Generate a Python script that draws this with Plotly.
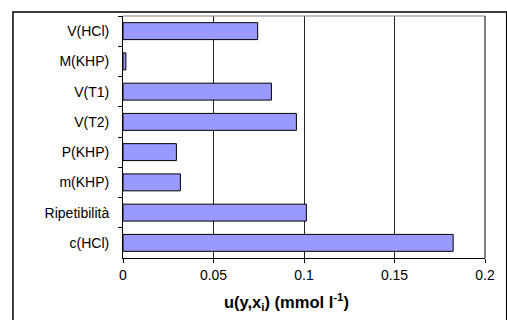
import plotly.graph_objects as go

categories = ["V(HCl)", "M(KHP)", "V(T1)", "V(T2)", "P(KHP)", "m(KHP)", "Ripetibilità", "c(HCl)"]
values = [0.0744, 0.0016, 0.082, 0.0958, 0.0295, 0.0317, 0.1013, 0.1824]
x_ticks = [0, 0.05, 0.1, 0.15, 0.2]
x_tick_labels = ["0", "0.05", "0.1", "0.15", "0.2"]

fig = go.Figure(go.Bar(
    x=values, y=categories, orientation="h",
    marker=dict(color="#9999FF", line=dict(color="#000000", width=1)),
))

font = "Liberation Sans, Arial, sans-serif"
fig.update_layout(
    width=507, height=320,
    margin=dict(l=123, r=15, t=16, b=62),
    paper_bgcolor="white", plot_bgcolor="white",
    bargap=0.44,
    showlegend=False,
    font=dict(family=font, size=14, color="#000000"),
    xaxis=dict(
        range=[0, 0.2], tickvals=x_ticks, ticktext=x_tick_labels,
        showgrid=True, gridcolor="#222222", gridwidth=1,
        showline=True, linecolor="#000000", linewidth=1,
        ticks="outside", ticklen=4, tickcolor="#000000",
        zeroline=False, tickfont=dict(size=14),
    ),
    yaxis=dict(
        autorange="reversed", type="category",
        showline=True, linecolor="#000000", linewidth=1,
        ticks="outside", ticklen=4, tickcolor="#000000", tickson="boundaries",
        showgrid=False, tickfont=dict(size=14), ticklabelstandoff=10,
    ),
    annotations=[dict(
        text="<b>u(y,x<sub>i</sub>) (mmol l<sup>-1</sup>)</b>",
        xref="paper", yref="paper", x=0.4526, y=-0.182,
        xanchor="center", yanchor="middle", showarrow=False,
        font=dict(size=16.5, family=font),
    )],
    shapes=[
        dict(type="line", xref="paper", yref="paper", x0=0, x1=1, y0=1, y1=1,
             line=dict(color="#808080", width=1)),
        dict(type="line", xref="paper", yref="paper", x0=1, x1=1, y0=0, y1=1,
             line=dict(color="#000000", width=1)),
        dict(type="rect", xref="paper", yref="paper",
             x0=-0.304, x1=1.06, y0=1.0165, y1=-0.3,
             line=dict(color="#000000", width=1.5), layer="above"),
    ],
)

fig.write_html("out.html")
